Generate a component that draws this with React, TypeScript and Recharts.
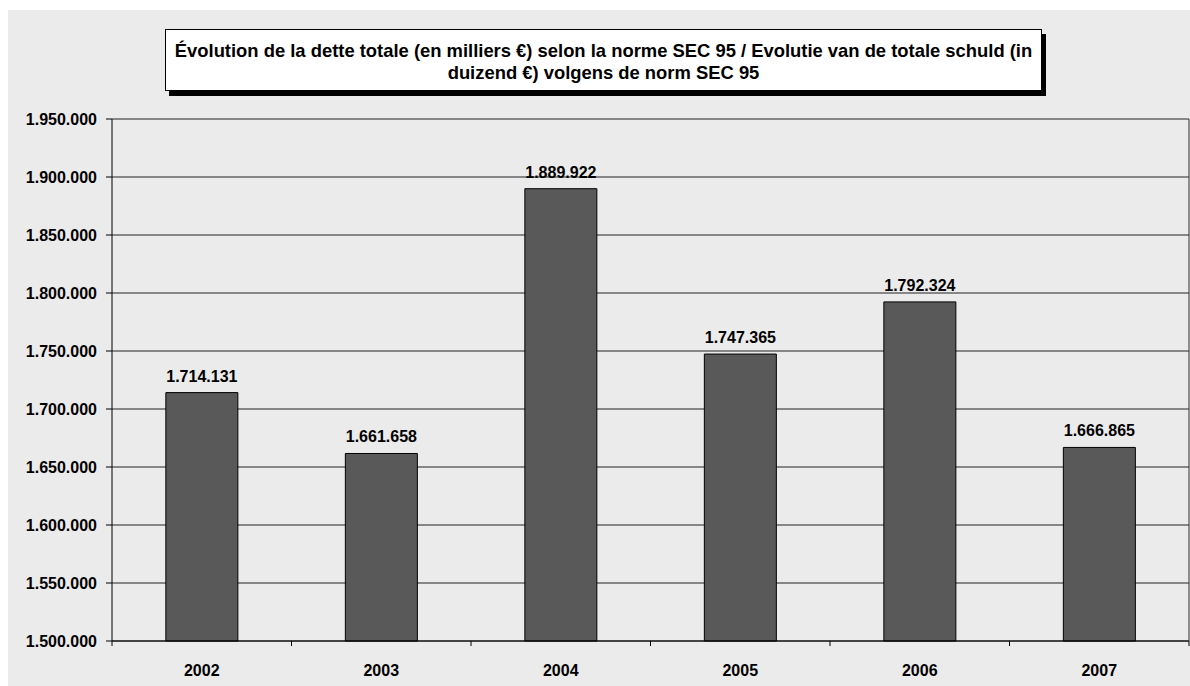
import React from 'react';
import { BarChart, Bar, XAxis, YAxis, CartesianGrid, LabelList } from 'recharts';

const years = ['2002', '2003', '2004', '2005', '2006', '2007'];
const debt = [1714131, 1661658, 1889922, 1747365, 1792324, 1666865];
const yTicks = [1500000, 1550000, 1600000, 1650000, 1700000, 1750000, 1800000, 1850000, 1900000, 1950000];
const titleLine1 = 'Évolution de la dette totale (en milliers €) selon la norme SEC 95 / Evolutie van de totale schuld (in';
const titleLine2 = 'duizend €) volgens de norm SEC 95';

const data = years.map((y, i) => ({ year: y, debt: debt[i] }));
const fmt = (v: number) => String(v).replace(/\B(?=(\d{3})+(?!\d))/g, '.');
const FONT = '"Liberation Sans", Arial, Helvetica, sans-serif';

function XTick(props: any) {
  const { x, y, payload, index, width, visibleTicksCount } = props;
  const band = width / (visibleTicksCount || years.length);
  const axisY = y;
  const left = x - band / 2;
  const right = x + band / 2;
  return (
    <g>
      <line x1={left} x2={left} y1={axisY} y2={axisY + 5} stroke="#000" strokeWidth={1} />
      {index === years.length - 1 && (
        <line x1={right} x2={right} y1={axisY} y2={axisY + 5} stroke="#000" strokeWidth={1} />
      )}
      <text x={x} y={axisY + 35} textAnchor="middle" fontFamily={FONT} fontWeight="bold" fontSize={16} fill="#000">
        {payload.value}
      </text>
    </g>
  );
}

export default function App() {
  return (
    <div
      style={{
        position: 'fixed',
        left: 8,
        top: 10,
        width: 1182,
        height: 676,
        background: '#ebebeb',
        fontFamily: FONT,
      }}
    >
      <BarChart
        width={1182}
        height={676}
        data={data}
        margin={{ top: 109, right: 0, left: 0, bottom: 0 }}
        barCategoryGap="30%"
      >
        <CartesianGrid vertical={false} stroke="#222" strokeWidth={1} />
        <XAxis
          dataKey="year"
          height={45}
          axisLine={{ stroke: '#000' }}
          tickLine={false}
          tickSize={0}
          tickMargin={0}
          tick={<XTick />}
          interval={0}
        />
        <YAxis
          width={104}
          domain={[1500000, 1950000]}
          ticks={yTicks}
          interval={0}
          tickFormatter={fmt}
          axisLine={{ stroke: '#000' }}
          tickLine={{ stroke: '#000' }}
          tickSize={6}
          tickMargin={9}
          tick={{ fontFamily: FONT, fontWeight: 'bold', fontSize: 16, fill: '#000' }}
        />
        <YAxis
          yAxisId="r"
          orientation="right"
          width={1}
          domain={[1500000, 1950000]}
          type="number"
          tick={false}
          tickLine={false}
          axisLine={{ stroke: '#333' }}
        />
        <Bar dataKey="debt" fill="#595959" stroke="#000" strokeWidth={1} isAnimationActive={false}>
          <LabelList
            dataKey="debt"
            position="top"
            offset={11}
            formatter={(v: any) => fmt(Number(v))}
            style={{ fontFamily: FONT, fontWeight: 'bold', fontSize: 16, fill: '#000' }}
          />
        </Bar>
      </BarChart>
      <div
        style={{
          position: 'absolute',
          left: 157,
          top: 19,
          width: 877,
          height: 62,
          boxSizing: 'border-box',
          border: '1px solid #000',
          background: '#fff',
          boxShadow: '4px 5px 0 #000',
          textAlign: 'center',
          fontFamily: FONT,
          fontWeight: 'bold',
          fontSize: 18.4,
          lineHeight: '22px',
          paddingTop: 10,
          color: '#000',
          whiteSpace: 'nowrap',
        }}
      >
        {titleLine1}
        <br />
        {titleLine2}
      </div>
    </div>
  );
}
